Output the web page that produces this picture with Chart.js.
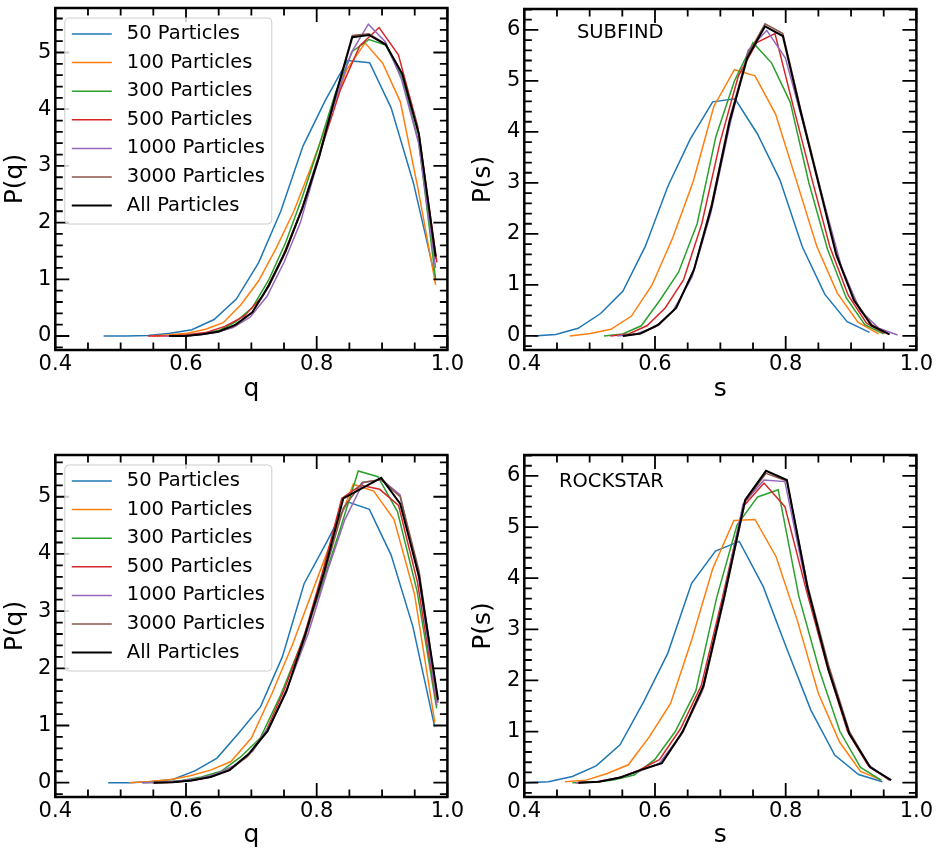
<!DOCTYPE html>
<html>
<head>
<meta charset="utf-8">
<title>P(q) and P(s) for SUBFIND and ROCKSTAR haloes</title>
<script src="https://cdn.jsdelivr.net/npm/chart.js@4.4.1/dist/chart.umd.min.js"></script>
<style>
  html, body { margin: 0; padding: 0; background: #fff; }
  #wrap { position: relative; width: 936px; height: 852px; }
  canvas { position: absolute; }
</style>
</head>
<body>
<div id="wrap">
  <canvas id="tl" width="468" height="426" style="left:0;top:0"></canvas>
  <canvas id="tr" width="468" height="426" style="left:468px;top:0"></canvas>
  <canvas id="bl" width="468" height="426" style="left:0;top:426px"></canvas>
  <canvas id="br" width="468" height="426" style="left:468px;top:426px"></canvas>
</div>
<script>
// series names and colours (matplotlib default cycle + black)
const labels = ['50 Particles', '100 Particles', '300 Particles', '500 Particles',
                '1000 Particles', '3000 Particles', 'All Particles'];
const colors = ['#1f77b4', '#ff7f0e', '#2ca02c', '#d62728', '#9467bd', '#8c564b', '#000000'];

const xTicks = [0.4, 0.6, 0.8, 1.0];

// --- top left: q, SUBFIND ---
const tlX = [
  [0.474, 0.508, 0.542, 0.576, 0.609, 0.643, 0.677, 0.711, 0.745, 0.779, 0.813, 0.847, 0.881, 0.914, 0.948, 0.982],
  [0.548, 0.575, 0.602, 0.630, 0.657, 0.684, 0.711, 0.738, 0.765, 0.792, 0.819, 0.846, 0.874, 0.901, 0.928, 0.955, 0.982],
  [0.574, 0.5995, 0.625, 0.6505, 0.676, 0.7015, 0.727, 0.7525, 0.778, 0.8035, 0.829, 0.8545, 0.880, 0.9055, 0.931, 0.9565, 0.982],
  [0.5415, 0.571, 0.6005, 0.630, 0.6595, 0.689, 0.7185, 0.748, 0.7775, 0.807, 0.8365, 0.866, 0.8955, 0.925, 0.9545, 0.984],
  [0.569, 0.594, 0.620, 0.646, 0.672, 0.698, 0.724, 0.750, 0.775, 0.801, 0.827, 0.853, 0.879, 0.905, 0.930, 0.956, 0.982],
  [0.574, 0.5995, 0.625, 0.6505, 0.676, 0.7015, 0.727, 0.7525, 0.778, 0.8035, 0.829, 0.8545, 0.880, 0.9055, 0.931, 0.9565, 0.982],
  [0.574, 0.5995, 0.625, 0.6505, 0.676, 0.7015, 0.727, 0.7525, 0.778, 0.8035, 0.829, 0.8545, 0.880, 0.9055, 0.931, 0.9565, 0.982]
];
const tlY = [
  [0, 0, 0.01, 0.05, 0.11, 0.29, 0.65, 1.29, 2.2, 3.35, 4.15, 4.86, 4.82, 4.02, 2.7, 1.0],
  [0, 0.02, 0.05, 0.12, 0.235, 0.55, 0.97, 1.55, 2.2, 3.0, 3.85, 4.7, 5.17, 4.81, 4.13, 2.6, 0.9],
  [0, 0.01, 0.04, 0.1, 0.25, 0.5, 1.0, 1.65, 2.45, 3.35, 4.3, 5.02, 5.23, 5.13, 4.55, 3.4, 1.0],
  [0, 0, 0.02, 0.06, 0.17, 0.35, 0.72, 1.4, 2.25, 3.3, 4.35, 5.12, 5.44, 4.96, 3.7, 1.3],
  [0, 0, 0.02, 0.06, 0.15, 0.33, 0.7, 1.3, 2.0, 3.05, 4.1, 5.0, 5.5, 5.19, 4.52, 3.4, 1.2],
  [0, 0, 0.03, 0.08, 0.19, 0.41, 0.88, 1.48, 2.27, 3.2, 4.25, 5.3, 5.33, 5.15, 4.63, 3.58, 1.35],
  [0, 0, 0.03, 0.08, 0.2, 0.42, 0.9, 1.5, 2.25, 3.15, 4.25, 5.27, 5.31, 5.14, 4.62, 3.55, 1.4]
];

// --- top right: s, SUBFIND ---
const trX = [
  [0.4138, 0.4481, 0.4824, 0.5167, 0.551, 0.5853, 0.6196, 0.6539, 0.6882, 0.7225, 0.7568, 0.7911, 0.8254, 0.8597, 0.894, 0.9283],
  [0.4695, 0.501, 0.5325, 0.564, 0.5955, 0.627, 0.6585, 0.69, 0.7215, 0.753, 0.7845, 0.816, 0.8475, 0.879, 0.9105, 0.942],
  [0.522, 0.5505, 0.579, 0.6075, 0.636, 0.6645, 0.693, 0.7215, 0.750, 0.7785, 0.807, 0.8355, 0.864, 0.8925, 0.921, 0.9495],
  [0.5316, 0.5596, 0.5876, 0.6156, 0.6436, 0.6716, 0.6996, 0.7276, 0.7556, 0.7836, 0.8116, 0.8396, 0.8676, 0.8956, 0.9236, 0.9516],
  [0.5422, 0.5708, 0.5994, 0.628, 0.6566, 0.6852, 0.7138, 0.7424, 0.771, 0.7996, 0.8282, 0.8568, 0.8854, 0.914, 0.9426, 0.9712],
  [0.5508, 0.578, 0.6052, 0.6324, 0.6596, 0.6868, 0.714, 0.7412, 0.7684, 0.7956, 0.8228, 0.85, 0.8772, 0.9044, 0.9316, 0.9588],
  [0.5508, 0.578, 0.6052, 0.6324, 0.6596, 0.6868, 0.714, 0.7412, 0.7684, 0.7956, 0.8228, 0.85, 0.8772, 0.9044, 0.9316, 0.9588]
];
const trY = [
  [0, 0.03, 0.15, 0.44, 0.88, 1.76, 2.93, 3.86, 4.59, 4.65, 3.96, 3.06, 1.75, 0.82, 0.28, 0.07],
  [0, 0.05, 0.13, 0.39, 1.0, 1.92, 3.03, 4.5, 5.22, 5.1, 4.35, 3.06, 1.76, 0.84, 0.27, 0.04],
  [0, 0.04, 0.2, 0.7, 1.25, 2.2, 3.9, 5.0, 5.75, 5.35, 4.58, 3.0, 1.7, 0.75, 0.22, 0.04],
  [0, 0.04, 0.2, 0.55, 1.1, 2.2, 3.8, 5.1, 5.75, 5.93, 4.5, 3.1, 1.75, 0.8, 0.25, 0.05],
  [0, 0.04, 0.17, 0.5, 1.15, 2.4, 4.1, 5.6, 5.99, 5.45, 4.1, 2.7, 1.35, 0.5, 0.15, 0.02],
  [0, 0.05, 0.21, 0.55, 1.3, 2.6, 4.25, 5.5, 6.12, 5.93, 4.45, 3.05, 1.62, 0.72, 0.22, 0.03],
  [0, 0.05, 0.22, 0.55, 1.3, 2.55, 4.2, 5.45, 6.07, 5.88, 4.4, 3.0, 1.6, 0.7, 0.2, 0.03]
];

// --- bottom left: q, ROCKSTAR ---
const blX = [
  [0.481, 0.5143, 0.5476, 0.5809, 0.6142, 0.6475, 0.6808, 0.7141, 0.7474, 0.7807, 0.814, 0.8473, 0.8806, 0.9139, 0.9472, 0.9805],
  [0.5128, 0.544, 0.5752, 0.6064, 0.6376, 0.6688, 0.70, 0.7312, 0.7624, 0.7936, 0.8248, 0.856, 0.8872, 0.9184, 0.9496, 0.9808],
  [0.5336, 0.5636, 0.5936, 0.6236, 0.6536, 0.6836, 0.7136, 0.7436, 0.7736, 0.8036, 0.8336, 0.8636, 0.8936, 0.9236, 0.9536, 0.9836],
  [0.5483, 0.5773, 0.6063, 0.6353, 0.6643, 0.6933, 0.7223, 0.7513, 0.7803, 0.8093, 0.8383, 0.8673, 0.8963, 0.9253, 0.9543, 0.9833],
  [0.5329, 0.5611, 0.5893, 0.6175, 0.6457, 0.6739, 0.7021, 0.7303, 0.7585, 0.7867, 0.8149, 0.8431, 0.8713, 0.8995, 0.9277, 0.9559, 0.9841],
  [0.5507, 0.5797, 0.6087, 0.6377, 0.6667, 0.6957, 0.7247, 0.7537, 0.7827, 0.8117, 0.8407, 0.8697, 0.8987, 0.9277, 0.9567, 0.9857],
  [0.5507, 0.5797, 0.6087, 0.6377, 0.6667, 0.6957, 0.7247, 0.7537, 0.7827, 0.8117, 0.8407, 0.8697, 0.8987, 0.9277, 0.9567, 0.9857]
];
const blY = [
  [0, 0, 0.02, 0.06, 0.21, 0.43, 0.87, 1.33, 2.2, 3.48, 4.18, 4.91, 4.78, 3.98, 2.73, 0.98],
  [0, 0.02, 0.05, 0.12, 0.22, 0.37, 0.78, 1.55, 2.4, 3.35, 4.3, 5.22, 5.1, 4.6, 3.3, 1.05],
  [0, 0.01, 0.04, 0.1, 0.2, 0.45, 0.78, 1.5, 2.35, 3.3, 4.35, 5.45, 5.35, 4.74, 3.35, 1.3],
  [0, 0.01, 0.04, 0.1, 0.22, 0.45, 0.9, 1.65, 2.55, 3.7, 4.97, 5.2, 5.13, 4.85, 3.5, 1.4],
  [0, 0.01, 0.03, 0.07, 0.15, 0.3, 0.55, 1.05, 1.75, 2.6, 3.65, 4.6, 5.25, 5.3, 5.03, 3.6, 1.35],
  [0, 0.01, 0.04, 0.1, 0.22, 0.48, 0.9, 1.6, 2.55, 3.65, 4.8, 5.25, 5.3, 5.0, 3.7, 1.4],
  [0, 0.01, 0.04, 0.1, 0.22, 0.5, 0.9, 1.6, 2.6, 3.7, 4.97, 5.15, 5.33, 4.88, 3.6, 1.45]
];

// --- bottom right: s, ROCKSTAR ---
const brX = [
  [0.4005, 0.437, 0.4735, 0.51, 0.5465, 0.583, 0.6195, 0.656, 0.6925, 0.729, 0.7655, 0.802, 0.8385, 0.875, 0.9115, 0.948],
  [0.4623, 0.4946, 0.5269, 0.5592, 0.5915, 0.6238, 0.6561, 0.6884, 0.7207, 0.753, 0.7853, 0.8176, 0.8499, 0.8822, 0.9145, 0.9468],
  [0.4735, 0.505, 0.5365, 0.568, 0.5995, 0.631, 0.6625, 0.694, 0.7255, 0.757, 0.7885, 0.82, 0.8515, 0.883, 0.9145, 0.946],
  [0.4788, 0.5108, 0.5428, 0.5748, 0.6068, 0.6388, 0.6708, 0.7028, 0.7348, 0.7668, 0.7988, 0.8308, 0.8628, 0.8948, 0.9268, 0.9588],
  [0.4788, 0.5108, 0.5428, 0.5748, 0.6068, 0.6388, 0.6708, 0.7028, 0.7348, 0.7668, 0.7988, 0.8308, 0.8628, 0.8948, 0.9268, 0.9588],
  [0.4828, 0.5147, 0.5466, 0.5785, 0.6104, 0.6423, 0.6742, 0.7061, 0.738, 0.7699, 0.8018, 0.8337, 0.8656, 0.8975, 0.9294, 0.9613],
  [0.4828, 0.5147, 0.5466, 0.5785, 0.6104, 0.6423, 0.6742, 0.7061, 0.738, 0.7699, 0.8018, 0.8337, 0.8656, 0.8975, 0.9294, 0.9613]
];
const brY = [
  [0, 0.02, 0.12, 0.33, 0.74, 1.59, 2.53, 3.9, 4.53, 4.72, 3.84, 2.61, 1.42, 0.54, 0.16, 0.02],
  [0.02, 0.05, 0.18, 0.35, 0.9, 1.55, 2.79, 4.19, 5.13, 5.15, 4.42, 3.18, 1.75, 0.8, 0.22, 0.05],
  [0, 0.01, 0.05, 0.15, 0.45, 1.0, 1.8, 3.6, 5.04, 5.59, 5.73, 3.65, 2.2, 1.0, 0.3, 0.05],
  [0, 0.02, 0.09, 0.24, 0.45, 1.05, 1.9, 3.6, 5.4, 5.86, 5.4, 3.8, 2.3, 1.0, 0.32, 0.05],
  [0, 0.02, 0.09, 0.22, 0.38, 0.92, 1.75, 3.5, 5.45, 5.92, 5.89, 3.9, 2.35, 1.05, 0.35, 0.05],
  [0, 0.02, 0.1, 0.25, 0.38, 0.98, 1.85, 3.6, 5.5, 6.05, 5.9, 3.85, 2.3, 1.0, 0.3, 0.05],
  [0, 0.02, 0.1, 0.25, 0.38, 1.0, 1.9, 3.65, 5.53, 6.1, 5.92, 3.8, 2.2, 0.95, 0.3, 0.05]
];

const FONT = 'DejaVu Sans';

// inward ticks on all four sides + the box round the axes
const frameTicks = {
  id: 'frameTicks',
  afterDatasetsDraw(chart) {
    const { ctx, chartArea: a, scales: { x, y } } = chart;
    ctx.save();
    ctx.strokeStyle = '#000';
    ctx.lineWidth = 1.8;
    ctx.beginPath();
    for (let i = 0; i <= 12; i++) {
      const px = x.getPixelForValue(0.4 + i * 0.05);
      const len = i % 4 === 0 ? 14 : 7.5;
      ctx.moveTo(px, a.bottom); ctx.lineTo(px, a.bottom - len);
      ctx.moveTo(px, a.top); ctx.lineTo(px, a.top + len);
    }
    for (let k = Math.ceil(y.min / 0.2); k * 0.2 <= y.max; k++) {
      const py = y.getPixelForValue(k * 0.2);
      const len = k % 5 === 0 ? 14 : 7.5;
      ctx.moveTo(a.left, py); ctx.lineTo(a.left + len, py);
      ctx.moveTo(a.right, py); ctx.lineTo(a.right - len, py);
    }
    ctx.stroke();
    ctx.lineWidth = 2.5;
    ctx.strokeRect(a.left, a.top, a.right - a.left, a.bottom - a.top);
    ctx.restore();
  }
};

// matplotlib style legend box in the upper left corner
const boxLegend = {
  id: 'boxLegend',
  afterDraw(chart, args, opts) {
    if (!opts.show) return;
    const { ctx, chartArea: a } = chart;
    const left = a.left + 9.5, top = a.top + 10, w = 207, h = 206, r = 4;
    ctx.save();
    ctx.beginPath();
    ctx.moveTo(left + r, top);
    ctx.arcTo(left + w, top, left + w, top + h, r);
    ctx.arcTo(left + w, top + h, left, top + h, r);
    ctx.arcTo(left, top + h, left, top, r);
    ctx.arcTo(left, top, left + w, top, r);
    ctx.closePath();
    ctx.fillStyle = 'rgba(255,255,255,0.8)';
    ctx.fill();
    ctx.strokeStyle = '#cccccc';
    ctx.lineWidth = 1;
    ctx.stroke();
    ctx.font = '19.5px "' + FONT + '"';
    ctx.textBaseline = 'middle';
    ctx.fillStyle = '#000';
    chart.data.datasets.forEach((ds, i) => {
      const cy = top + 16 + i * 28.6;
      ctx.beginPath();
      ctx.strokeStyle = ds.borderColor;
      ctx.lineWidth = ds.borderWidth;
      ctx.moveTo(left + 7, cy);
      ctx.lineTo(left + 47, cy);
      ctx.stroke();
      ctx.fillText(ds.label, left + 62, cy);
    });
    ctx.restore();
  }
};

// halo finder name inside the axes
const cornerText = {
  id: 'cornerText',
  afterDraw(chart, args, opts) {
    if (!opts.text) return;
    const { ctx, scales: { x, y } } = chart;
    ctx.save();
    ctx.font = '19.5px "' + FONT + '"';
    ctx.textBaseline = 'middle';
    ctx.fillStyle = '#000';
    ctx.fillText(opts.text, x.getPixelForValue(opts.x), y.getPixelForValue(opts.y));
    ctx.restore();
  }
};

function makeChart(id, xs, ys, o) {
  return new Chart(document.getElementById(id), {
    type: 'line',
    data: {
      datasets: labels.map((lab, i) => ({
        label: lab,
        data: xs[i].map((v, j) => ({ x: v, y: ys[i][j] })),
        borderColor: colors[i],
        borderWidth: i === 6 ? 2 : 1.5,
        pointRadius: 0,
        tension: 0,
        fill: false,
        order: 6 - i
      }))
    },
    options: {
      responsive: false,
      animation: false,
      layout: { padding: { left: 0, right: o.padRight, top: o.padTop, bottom: 0 } },
      plugins: {
        legend: { display: false },
        tooltip: { enabled: false },
        boxLegend: { show: o.legend },
        cornerText: o.corner || {}
      },
      scales: {
        x: {
          type: 'linear',
          min: 0.4,
          max: 1.0,
          afterBuildTicks: s => { s.ticks = xTicks.map(v => ({ value: v })); },
          afterFit: s => { s.height = o.xHeight; s.paddingLeft = 0; s.paddingRight = 0; },
          grid: { display: false, drawTicks: false },
          border: { display: false },
          ticks: {
            autoSkip: false, maxRotation: 0, padding: 2, color: '#000',
            font: { family: FONT, size: 21 },
            callback: v => v.toFixed(1)
          },
          title: {
            display: true, text: o.xTitle, color: '#000',
            font: { family: FONT, size: 25 },
            padding: { top: 0, bottom: o.xTitlePad }
          }
        },
        y: {
          type: 'linear',
          min: o.yMin,
          max: o.yMax,
          afterFit: s => { s.width = o.yWidth; s.paddingTop = 0; s.paddingBottom = 0; },
          grid: { display: false, drawTicks: false },
          border: { display: false },
          ticks: {
            stepSize: 1, includeBounds: false, padding: 4, color: '#000',
            font: { family: FONT, size: 21 },
            callback: v => String(v)
          },
          title: {
            display: true, text: o.yTitle, color: '#000',
            font: { family: FONT, size: 25 },
            padding: { top: o.yTitlePad, bottom: 0 }
          }
        }
      }
    },
    plugins: [frameTicks, boxLegend, cornerText]
  });
}

makeChart('tl', tlX, tlY, {
  xTitle: 'q', yTitle: 'P(q)', yMin: -0.247, yMax: 5.785, legend: true,
  padTop: 8, padRight: 20.6, yWidth: 55.3, xHeight: 76, xTitlePad: 22, yTitlePad: 0
});
makeChart('tr', trX, trY, {
  xTitle: 's', yTitle: 'P(s)', yMin: -0.275, yMax: 6.41, legend: false,
  corner: { text: 'SUBFIND', x: 0.4806, y: 5.94 },
  padTop: 9, padRight: 19.6, yWidth: 56.3, xHeight: 76, xTitlePad: 22, yTitlePad: 0
});
makeChart('bl', blX, blY, {
  xTitle: 'q', yTitle: 'P(q)', yMin: -0.25, yMax: 5.73, legend: true,
  padTop: 29, padRight: 20.6, yWidth: 55.3, xHeight: 55, xTitlePad: 2, yTitlePad: 0
});
makeChart('br', brX, brY, {
  xTitle: 's', yTitle: 'P(s)', yMin: -0.28, yMax: 6.41, legend: false,
  corner: { text: 'ROCKSTAR', x: 0.453, y: 5.89 },
  padTop: 29, padRight: 19.6, yWidth: 56.3, xHeight: 55, xTitlePad: 2, yTitlePad: 0
});
</script>
</body>
</html>
